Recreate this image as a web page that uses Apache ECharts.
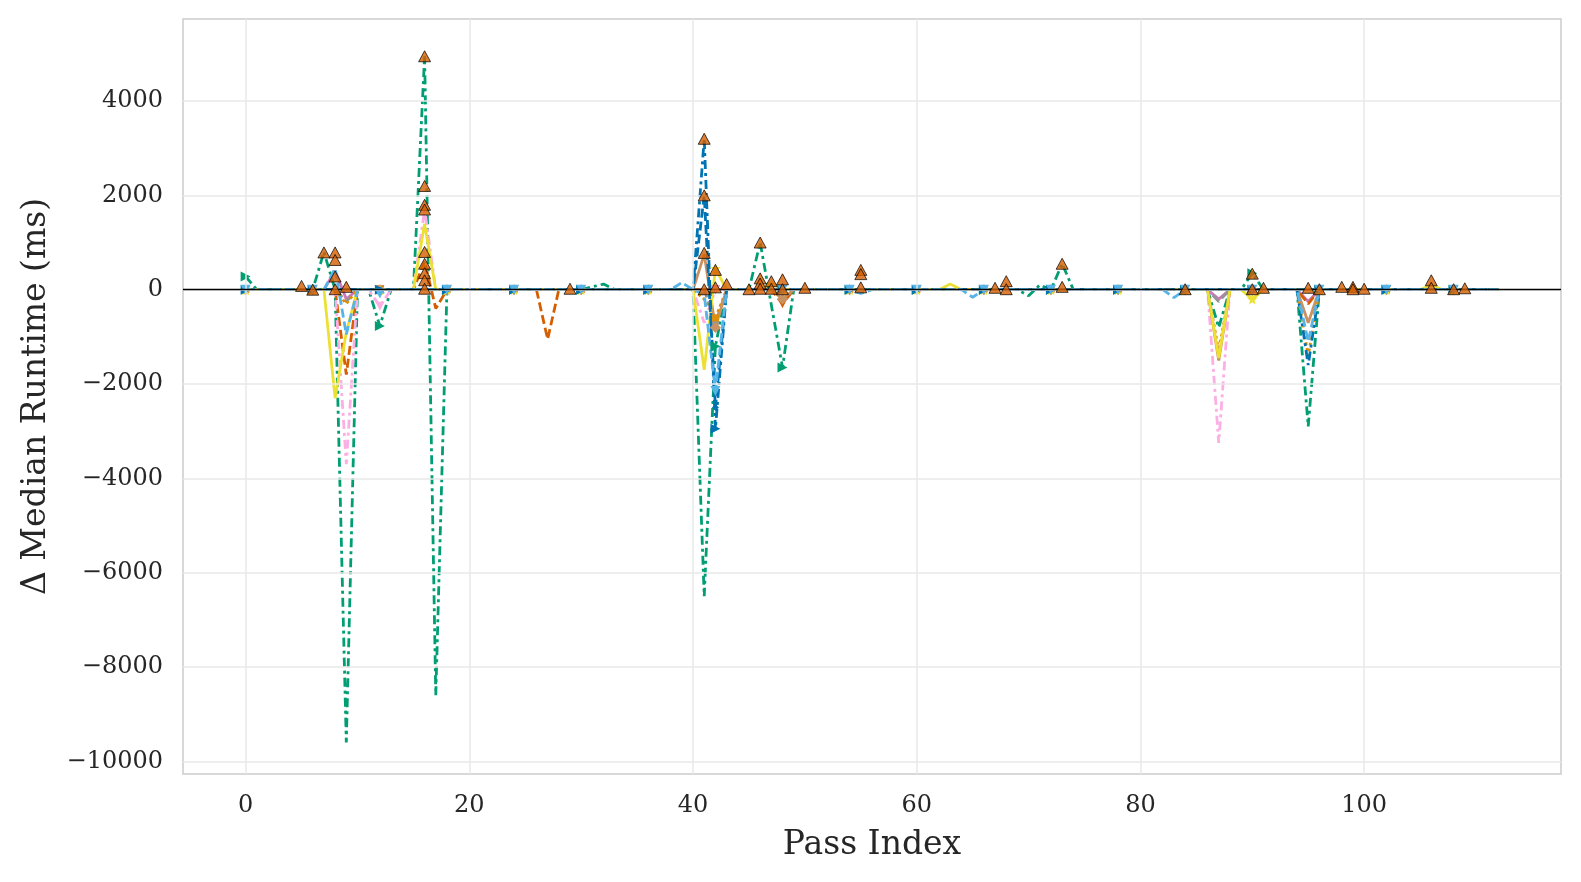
<!DOCTYPE html>
<html>
<head>
<meta charset="utf-8">
<title>Δ Median Runtime per Pass</title>
<script src="https://cdn.jsdelivr.net/npm/echarts@6/dist/echarts.min.js"></script>
<style>
  html, body { margin: 0; padding: 0; background: #fff; }
  #chart { width: 1581px; height: 882px; }
</style>
</head>
<body>
<div id="chart"></div>
<script>
// tick values shown on the axes
const xTicks = [0, 20, 40, 60, 80, 100];
const yTicks = [-10000, -8000, -6000, -4000, -2000, 0, 2000, 4000];

// [pass index, delta median runtime (ms)] per run
const greenRun = [[0, 280], [1, 0], [6, 0], [7, 800], [8, 0], [9, -9600], [10, 0], [11, 0], [12, -770], [13, 0], [15, 0], [16, 4950], [17, -8600], [18, 0], [24, 0], [30, 0], [31, 60], [32, 120], [33, 0], [36, 0], [40, 0], [41, -6500], [42, -1200], [43, 0], [45, 0], [46, 1000], [48, -1650], [49, 0], [54, 0], [60, 0], [66, 0], [69, 0], [70, -130], [71, 100], [72, 0], [73, 550], [74, 0], [78, 0], [84, 0], [86, 0], [87, -800], [88, 0], [89, 0], [90, 350], [91, 0], [94, 0], [95, -2900], [96, 0], [102, 0], [108, 0], [112, 0]];
const blueRun = [[0, 0], [6, 0], [12, 0], [18, 0], [24, 0], [30, 0], [36, 0], [40, 0], [41, 3200], [42, -2950], [43, 0], [48, 0], [54, 0], [60, 0], [66, 0], [72, 0], [78, 0], [84, 0], [90, 0], [94, 0], [95, -1600], [96, 0], [102, 0], [108, 0], [112, 0]];
const blueRun2 = [[0, 0], [6, 0], [12, 0], [18, 0], [24, 0], [30, 0], [36, 0], [40, 0], [41, 2000], [42, -2500], [43, 0], [48, 0], [54, 0], [60, 0], [66, 0], [72, 0], [78, 0], [84, 0], [90, 0], [96, 0], [102, 0], [108, 0], [112, 0]];
const lightBlueRun = [[0, 0], [6, 0], [7, 0], [8, 450], [9, -950], [10, 0], [11, 0], [12, -80], [13, 0], [18, 0], [24, 0], [30, 0], [36, 0], [38, 0], [39, 150], [40, 0], [41, -100], [42, -2150], [43, 0], [48, 0], [54, 0], [55, -80], [56, 0], [60, 0], [64, 0], [65, -160], [66, 0], [72, 0], [78, 0], [82, 0], [83, -170], [84, 0], [90, 0], [94, 0], [95, -1100], [96, 0], [102, 0], [108, 0], [112, 0]];
const yellowRun = [[0, 0], [6, 0], [7, 0], [8, -2300], [9, -900], [10, 0], [12, 0], [15, 0], [16, 1400], [17, 0], [18, 0], [24, 0], [30, 0], [36, 0], [40, 0], [41, -1700], [42, 450], [43, 0], [46, 0], [47, 150], [48, 0], [54, 0], [60, 0], [62, 0], [63, 120], [64, 0], [66, 0], [72, 0], [78, 0], [84, 0], [86, 0], [87, -1450], [88, 0], [89, 0], [90, -200], [91, 0], [96, 0], [102, 0], [105, 0], [106, 100], [107, 0], [108, 0], [112, 0]];
const pinkRun = [[0, 0], [6, 0], [8, 0], [9, -3700], [10, 0], [11, 0], [12, -350], [13, 0], [15, 0], [16, 1700], [17, 0], [18, 0], [24, 0], [30, 0], [36, 0], [40, 0], [41, -700], [42, 0], [48, 0], [54, 0], [60, 0], [66, 0], [72, 0], [78, 0], [84, 0], [86, 0], [87, -3250], [88, 0], [90, 0], [96, 0], [102, 0], [108, 0], [112, 0]];
const redRun = [[0, 0], [6, 0], [8, 0], [9, -1800], [10, 0], [12, 0], [15, 0], [16, 600], [17, -400], [18, 0], [24, 0], [26, 0], [27, -1050], [28, 0], [30, 0], [36, 0], [42, 0], [47, 0], [48, -300], [49, 0], [54, 0], [60, 0], [66, 0], [72, 0], [78, 0], [84, 0], [90, 0], [94, 0], [95, -300], [96, 0], [102, 0], [108, 0], [112, 0]];
const orangeRun = [[0, 0], [6, 0], [8, 0], [9, -300], [10, 0], [12, 0], [18, 0], [24, 0], [30, 0], [36, 0], [40, 0], [41, -200], [42, -600], [43, 0], [48, 0], [54, 0], [60, 0], [66, 0], [72, 0], [78, 0], [84, 0], [86, 0], [87, -1300], [88, 0], [90, 0], [94, 0], [95, -1400], [96, 0], [102, 0], [108, 0], [112, 0]];
const brownRun = [[0, 0], [6, 0], [12, 0], [18, 0], [24, 0], [30, 0], [36, 0], [40, 0], [41, 750], [42, -800], [43, 0], [47, 0], [48, -200], [49, 0], [54, 0], [60, 0], [66, 0], [72, 0], [78, 0], [84, 0], [86, 0], [87, -1500], [88, 0], [90, 0], [94, 0], [95, -700], [96, 0], [102, 0], [108, 0], [112, 0]];
const grayRun = [[0, 0], [6, 0], [8, 0], [9, -250], [10, 0], [12, 0], [18, 0], [24, 0], [30, 0], [36, 0], [40, 0], [41, 0], [42, -700], [43, 0], [48, 0], [54, 0], [60, 0], [66, 0], [72, 0], [78, 0], [84, 0], [86, 0], [87, -250], [88, 0], [90, 0], [96, 0], [102, 0], [108, 0], [112, 0]];
const purpleRun = [[0, 0], [6, 0], [7, 0], [8, 400], [9, -200], [10, 0], [12, 0], [18, 0], [24, 0], [30, 0], [36, 0], [42, 0], [48, 0], [54, 0], [60, 0], [66, 0], [72, 0], [78, 0], [84, 0], [86, 0], [87, -200], [88, 0], [90, 0], [94, 0], [95, -250], [96, 0], [102, 0], [108, 0], [112, 0]];

// regressions (triangles)
const regX = [5, 6, 7, 8, 8, 8, 8, 9, 16, 16, 16, 16, 16, 16, 16, 16, 16, 29, 41, 41, 41, 41, 42, 42, 43, 45, 46, 46, 46, 46, 47, 47, 48, 48, 50, 55, 55, 55, 67, 68, 68, 73, 73, 84, 90, 90, 91, 95, 96, 98, 99, 99, 100, 106, 106, 108, 109];
const regY = [80, 0, 790, 790, 630, 280, 10, 60, 4950, 2200, 1800, 1700, 800, 550, 350, 200, 20, 20, 3200, 2000, 780, 10, 420, 50, 120, 10, 1000, 240, 130, 20, 180, 20, 220, 10, 40, 420, 330, 50, 40, 180, 10, 550, 60, 10, 340, 10, 40, 40, 10, 60, 60, 10, 20, 200, 40, 10, 30];

const FONT = "DejaVu Serif";
const TEXT = "#262626";

const dashDot = [9, 4, 3, 4];
const dashed = [9, 4];
const dotted = [3, 3];
const STAR = "path://M0,-10L2.35,-3.24L9.51,-3.09L3.8,1.24L5.88,8.09L0,4L-5.88,8.09L-3.8,1.24L-9.51,-3.09L-2.35,-3.24Z";

// markers are drawn on every 6th pass
function lineSeries(name, data, color, type, marker, rotate, size) {
	return {
		name: name,
		type: "line",
		data: data,
		showSymbol: true,
		symbol: (value) => (value[0] % 6 === 0 ? marker : "none"),
		symbolSize: size || 9,
		symbolRotate: rotate || 0,
		z: 3,
		itemStyle: { color: color },
		lineStyle: { color: color, width: 2.8, type: type },
	};
}

const gridLines = [];
xTicks.forEach((v) => gridLines.push({ xAxis: v }));
yTicks.forEach((v) => gridLines.push({ yAxis: v }));

const chart = echarts.init(document.getElementById("chart"), null, { renderer: "canvas" });

chart.setOption({
	animation: false,
	backgroundColor: "#fff",
	grid: {
		left: 183,
		right: 20,
		top: 19,
		bottom: 108,
		show: true,
		borderColor: "#cccccc",
		borderWidth: 1.5,
	},
	xAxis: {
		type: "value",
		min: -5.6,
		max: 117.6,
		splitLine: { show: false },
		axisLine: { show: false },
		axisTick: { show: false },
		axisLabel: {
			customValues: xTicks,
			fontFamily: FONT,
			fontSize: 24,
			color: TEXT,
			margin: 20,
		},
		name: "Pass Index",
		nameLocation: "middle",
		nameGap: 55,
		nameTextStyle: { fontFamily: FONT, fontSize: 33, color: TEXT },
	},
	yAxis: {
		type: "value",
		min: -10270,
		max: 5740,
		splitLine: { show: false },
		axisLine: { show: false },
		axisTick: { show: false },
		axisLabel: {
			customValues: yTicks,
			fontFamily: FONT,
			fontSize: 24,
			color: TEXT,
			margin: 20,
			formatter: (v) => String(v).replace("-", "\u2212"),
		},
		name: "Δ Median Runtime (ms)",
		nameLocation: "middle",
		nameGap: 130,
		nameTextStyle: { fontFamily: FONT, fontSize: 33, color: TEXT },
	},
	series: [
		{
			type: "line",
			data: [],
			z: 1,
			silent: true,
			markLine: {
				silent: true,
				symbol: "none",
				label: { show: false },
				lineStyle: { color: "#e8e8e8", width: 1.5, type: "solid" },
				data: gridLines,
			},
		},
		lineSeries("s1", greenRun, "#029e73", dashDot, "triangle", -90, 10),
		lineSeries("s11", purpleRun, "#cc78bc", "solid", "triangle", 180, 7),
		lineSeries("s10", grayRun, "#949494", dashed, "circle", 0, 7),
		lineSeries("s7", redRun, "#d55e00", dashed, "triangle", 180),
		lineSeries("s6", pinkRun, "#fbafe4", dashDot, "triangle", 180),
		lineSeries("s8", orangeRun, "#de8f05", dotted, "rect", 0, 7),
		lineSeries("s9", brownRun, "#ca9161", "solid", "diamond", 0, 11),
		lineSeries("s5", yellowRun, "#ece133", "solid", STAR, 0, 11),
		lineSeries("s3", blueRun2, "#0173b2", dashed, "diamond", 0, 7),
		lineSeries("s2", blueRun, "#0173b2", dashDot, "triangle", -90, 10),
		lineSeries("s4", lightBlueRun, "#56b4e9", dashed, "triangle", 180, 10),
		{
			type: "line",
			data: [],
			z: 5,
			silent: true,
			markLine: {
				silent: true,
				symbol: "none",
				label: { show: false },
				lineStyle: { color: "#000", width: 1.4, type: "solid" },
				data: [{ yAxis: 0 }],
			},
		},
		{
			name: "regressions",
			type: "scatter",
			data: regX.map((x, i) => [x, regY[i]]),
			symbol: "triangle",
			symbolSize: [12, 11],
			z: 7,
			itemStyle: { color: "#d55e00", borderColor: "#000", borderWidth: 0.9 },
		},
	],
});
</script>
</body>
</html>
